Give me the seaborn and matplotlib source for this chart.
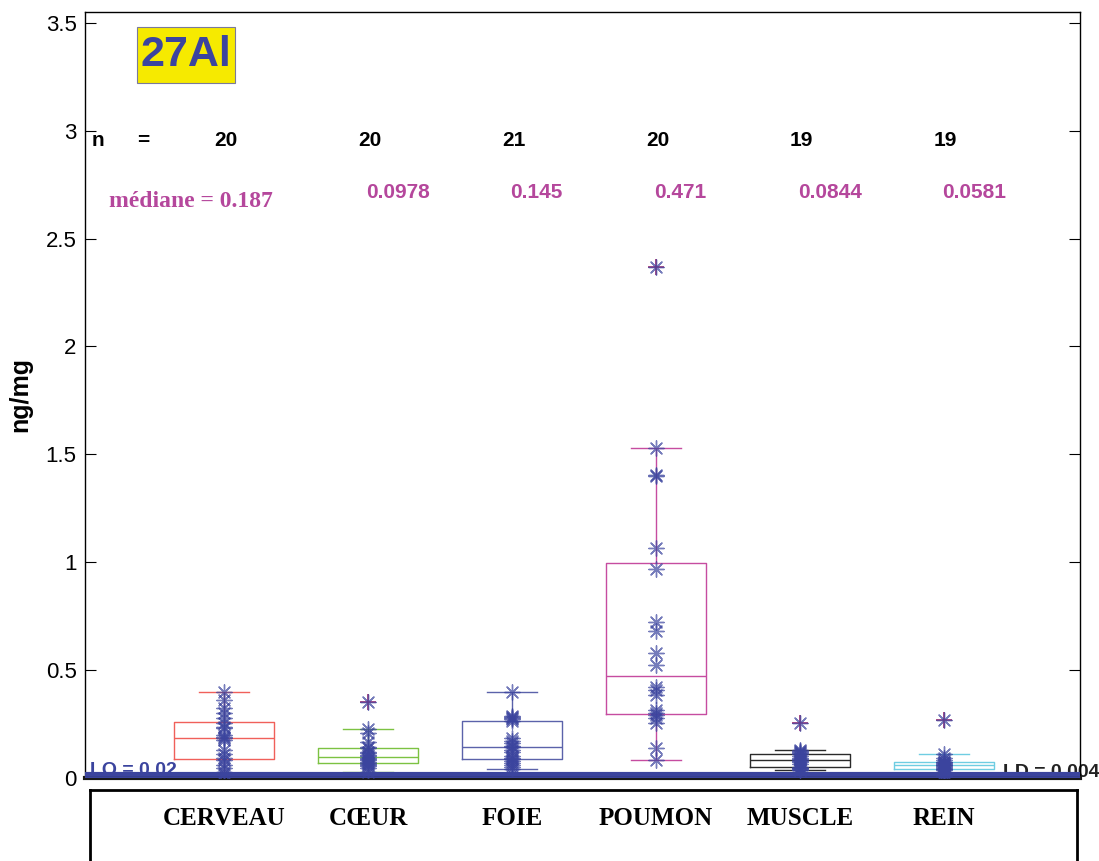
import numpy as np
import pandas as pd
import matplotlib
matplotlib.use("Agg")
import matplotlib.pyplot as plt
from matplotlib.patches import Rectangle
import seaborn as sns

# ── Data (ng/mg) ──────────────────────────────────────────────────────────────
organs = ["CERVEAU", "CŒUR", "FOIE", "POUMON", "MUSCLE", "REIN"]

cerveau = [0.02, 0.03, 0.046, 0.06, 0.083, 0.091, 0.11, 0.13, 0.176, 0.184,
           0.19, 0.20, 0.231, 0.238, 0.255, 0.276, 0.30, 0.326, 0.361, 0.40]
coeur = [0.03, 0.045, 0.055, 0.06, 0.066, 0.07, 0.075, 0.085, 0.09, 0.095,
         0.1005, 0.106, 0.115, 0.122, 0.137, 0.145, 0.168, 0.207, 0.228, 0.353]
foie = [0.043, 0.05, 0.06, 0.07, 0.08, 0.09, 0.095, 0.10, 0.12, 0.13, 0.145,
        0.15, 0.16, 0.17, 0.184, 0.262, 0.272, 0.278, 0.283, 0.288, 0.40]
poumon = [0.083, 0.137, 0.253, 0.276, 0.29, 0.30, 0.315, 0.384, 0.407, 0.42,
          0.522, 0.577, 0.68, 0.724, 0.97, 1.068, 1.398, 1.405, 1.528, 2.366]
muscle = [0.036, 0.038, 0.042, 0.046, 0.048, 0.052, 0.065, 0.075, 0.08, 0.0844,
          0.09, 0.095, 0.10, 0.11, 0.115, 0.12, 0.125, 0.128, 0.256]
rein = [0.01, 0.02, 0.03, 0.038, 0.042, 0.044, 0.048, 0.052, 0.055, 0.0581,
        0.062, 0.065, 0.068, 0.072, 0.076, 0.085, 0.095, 0.113, 0.268]

median_labels = ["0.187", "0.0978", "0.145", "0.471", "0.0844", "0.0581"]
box_colors = ["#f0605a", "#7cc242", "#5b62aa", "#c64ca0", "#2a2a2a", "#6fcde2"]

LQ = 0.02
LD = 0.004

series = [cerveau, coeur, foie, poumon, muscle, rein]
df = pd.DataFrame({
    "organ": np.repeat(organs, [len(s) for s in series]),
    "value": np.concatenate(series),
})

NAVY = "#3b449e"
MAG = "#b5479c"
SANS = "Liberation Sans"
SERIF = "Liberation Serif"

plt.rcParams["font.family"] = SANS

fig = plt.figure(figsize=(10.99, 8.61), dpi=100)
ax = fig.add_axes([85 / 1099, 83 / 861, 995 / 1099, 766 / 861])

# ── Boxes + points ────────────────────────────────────────────────────────────
sns.boxplot(
    data=df, x="organ", y="value", hue="organ", order=organs, hue_order=organs,
    palette=box_colors, fill=False, width=0.69, linewidth=1, legend=False,
    flierprops=dict(marker="+", markeredgecolor="#b03070", markersize=12,
                    markeredgewidth=1.2),
    ax=ax,
)
sns.stripplot(
    data=df, x="organ", y="value", order=organs, jitter=False,
    marker=(8, 2, 0), color=NAVY, size=11, linewidth=1, alpha=0.7,
    zorder=3, ax=ax,
)

ax.set_xlim(-0.965, 5.944)
ax.set_ylim(0, 3.55)

# detection / quantification limits
ax.text(-0.93, -0.005, f"LQ = {LQ}", color=NAVY, fontsize=14, fontweight="bold",
        ha="left", va="bottom", zorder=2)
ax.text(5.41, -0.015, f"LD = {LD}", color="#222222", fontsize=14,
        fontweight="bold", ha="left", va="bottom", zorder=2, clip_on=False)
ax.axhline(LQ, color=NAVY, lw=3, zorder=6)
ax.axhline(LD, color=NAVY, lw=2, zorder=6)

# ── n and median rows ─────────────────────────────────────────────────────────
ax.text(-0.917, 2.954, "n", fontsize=15, fontweight="bold", va="center")
ax.text(-0.604, 2.954, "=", fontsize=15, fontweight="bold", va="center")
for i, s in enumerate(series):
    ax.text(i + 0.01, 2.954, str(len(s)), fontsize=15, fontweight="bold",
            ha="center", va="center")
ax.text(-0.80, 2.672, f"médiane = {median_labels[0]}", family=SERIF,
        fontsize=17, fontweight="bold", color=MAG, va="center")
for i, m in enumerate(median_labels[1:], start=1):
    ax.text(i - 0.01, 2.713, m, fontsize=15, fontweight="bold", color=MAG,
            ha="left", va="center")

# element label in yellow box
ax.add_patch(Rectangle((0.0523, 0.9073), 0.0985, 0.0731, transform=ax.transAxes,
                       facecolor="#f6ea00", edgecolor="#7a7a9a", linewidth=0.8,
                       zorder=4))
ax.text(0.1015, 0.9438, "27Al", transform=ax.transAxes, fontsize=31,
        fontweight="bold", color=NAVY, ha="center", va="center", zorder=5)

# ── Axis styling ──────────────────────────────────────────────────────────────
ax.set_yticks(np.arange(0, 3.51, 0.5))
ax.set_yticklabels(["0", "0.5", "1", "1.5", "2", "2.5", "3", "3.5"])
ax.tick_params(axis="y", direction="in", right=True, length=8, labelsize=16,
               pad=6)
ax.tick_params(axis="x", length=0, labelbottom=False)
ax.set_xlabel("")
ax.set_ylabel("ng/mg", fontsize=18, fontweight="bold")
ax.yaxis.set_label_coords(-0.053, 0.5)
for side in ["top", "left", "right"]:
    ax.spines[side].set_linewidth(1)
ax.spines["bottom"].set_linewidth(3)
ax.spines["bottom"].set_color("#1a1a1a")

# ── Category label panel ──────────────────────────────────────────────────────
lab = fig.add_axes([90 / 1099, -12 / 861, 987 / 1099, 83 / 861])
x0, x1 = ax.get_xlim()
span = x1 - x0
lab.set_xlim(x0 + 5 / 995 * span, x1 - 3 / 995 * span)
lab.set_ylim(0, 1)
for i, name in enumerate(organs):
    lab.text(i, 0.66, name, family=SERIF, fontsize=18, fontweight="bold",
             ha="center", va="center")
lab.set_xticks([])
lab.set_yticks([])
for sp in lab.spines.values():
    sp.set_linewidth(2)

fig.savefig("out.png", dpi=100)
